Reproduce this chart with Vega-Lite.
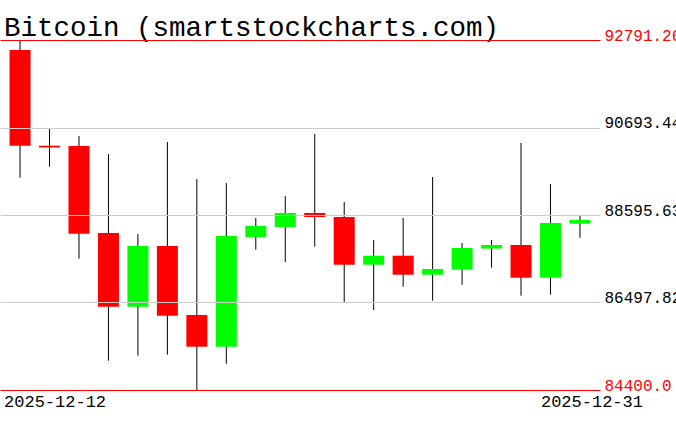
{
  "$schema": "https://vega.github.io/schema/vega-lite/v6.json",
  "width": 600,
  "height": 350,
  "autosize": {"type": "none"},
  "padding": {"left": 0, "top": 40, "right": 76, "bottom": 41},
  "background": "white",
  "config": {"view": {"stroke": null}},
  "title": {
    "text": "Bitcoin (smartstockcharts.com)",
    "anchor": "start",
    "font": "Liberation Mono",
    "fontSize": 27.5,
    "fontWeight": "normal",
    "color": "black",
    "offset": -14,
    "dx": 4
  },
  "data": {
    "values": [
      {"date": "2025-12-12", "open": 92551, "high": 92791.26, "low": 89490, "close": 90257},
      {"date": "2025-12-13", "open": 90257, "high": 90657, "low": 89753, "close": 90215},
      {"date": "2025-12-14", "open": 90250, "high": 90489, "low": 87548, "close": 88147},
      {"date": "2025-12-15", "open": 88164, "high": 90058, "low": 85102, "close": 86397},
      {"date": "2025-12-16", "open": 86397, "high": 88140, "low": 85222, "close": 87852},
      {"date": "2025-12-17", "open": 87852, "high": 90346, "low": 85246, "close": 86181},
      {"date": "2025-12-18", "open": 86198, "high": 89458, "low": 84400, "close": 85438},
      {"date": "2025-12-19", "open": 85438, "high": 89363, "low": 85030, "close": 88092},
      {"date": "2025-12-20", "open": 88068, "high": 88524, "low": 87764, "close": 88332},
      {"date": "2025-12-21", "open": 88308, "high": 89051, "low": 87469, "close": 88644},
      {"date": "2025-12-22", "open": 88644, "high": 90538, "low": 87836, "close": 88548},
      {"date": "2025-12-23", "open": 88548, "high": 88907, "low": 86510, "close": 87404},
      {"date": "2025-12-24", "open": 87404, "high": 87996, "low": 86318, "close": 87620},
      {"date": "2025-12-25", "open": 87620, "high": 88524, "low": 86876, "close": 87164},
      {"date": "2025-12-26", "open": 87164, "high": 89507, "low": 86541, "close": 87301},
      {"date": "2025-12-27", "open": 87284, "high": 87924, "low": 86924, "close": 87804},
      {"date": "2025-12-28", "open": 87790, "high": 87996, "low": 87332, "close": 87876},
      {"date": "2025-12-29", "open": 87876, "high": 90322, "low": 86661, "close": 87092},
      {"date": "2025-12-30", "open": 87092, "high": 89339, "low": 86685, "close": 88404},
      {"date": "2025-12-31", "open": 88387, "high": 88572, "low": 88052, "close": 88476}
    ]
  },
  "encoding": {
    "x": {
      "field": "date",
      "type": "ordinal",
      "scale": {"type": "band", "paddingInner": 0, "paddingOuter": 0.18},
      "axis": {
        "title": null,
        "ticks": false,
        "domain": false,
        "grid": false,
        "labelAngle": 0,
        "labelFont": "Liberation Mono",
        "labelFontSize": 17,
        "labelColor": "black",
        "labelPadding": 3,
        "labelOverlap": false,
        "labelBound": false,
        "labelExpr": "datum.index == 0 || datum.index == 1 ? datum.label : ''",
        "labelAlign": {"condition": {"test": "datum.index == 0", "value": "left"}, "value": "center"},
        "labelOffset": {"condition": {"test": "datum.index == 0", "value": -16}, "value": 12}
      }
    }
  },
  "layer": [
    {
      "mark": {"type": "rule", "color": "black", "strokeWidth": 1},
      "encoding": {
        "y": {
          "field": "low",
          "type": "quantitative",
          "scale": {"domain": [84400, 92791.26], "nice": false, "zero": false},
          "axis": {
            "orient": "right",
            "title": null,
            "values": [84400, 86497.82, 88595.63, 90693.44, 92791.26],
            "ticks": false,
            "domain": false,
            "grid": true,
            "gridWidth": 1,
            "gridColor": {"condition": {"test": "datum.value == 84400 || datum.value == 92791.26", "value": "#ff0000"}, "value": "#cccccc"},
            "labelColor": {"condition": {"test": "datum.value == 84400 || datum.value == 92791.26", "value": "#ff0000"}, "value": "black"},
            "labelExpr": "datum.value == 84400 ? '84400.0' : format(datum.value, '.2f')",
            "labelBaseline": "alphabetic",
            "labelPadding": 4,
            "labelFont": "Liberation Mono",
            "labelFontSize": 16,
            "labelOverlap": false,
            "labelBound": false,
            "labelFlush": false,
            "zindex": 1
          }
        },
        "y2": {"field": "high"}
      }
    },
    {
      "mark": {"type": "bar", "width": 21},
      "encoding": {
        "y": {"field": "open", "type": "quantitative"},
        "y2": {"field": "close"},
        "color": {"condition": {"test": "datum.close < datum.open", "value": "#ff0000"}, "value": "#00ff00"}
      }
    }
  ]
}
